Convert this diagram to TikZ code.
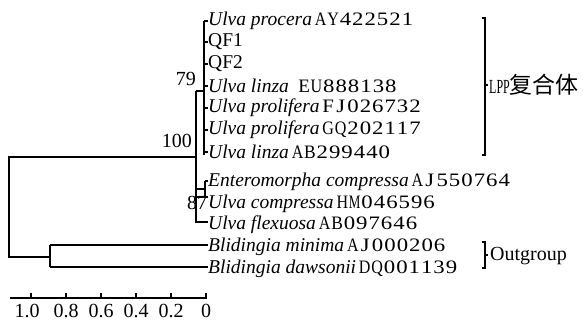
\documentclass[tikz,border=0pt]{standalone}
\usepackage{fontspec}
\usepackage{graphicx}
\setmainfont{Liberation Serif}
\newfontfamily\accfont[FakeStretch=1.2]{Liberation Serif}
\newfontfamily\cjk{Noto Sans CJK SC}
\newlength\acccell
\setlength\acccell{12.4pt}
\newlength\accmax
\setlength\accmax{11.6pt}
\makeatletter
\newcommand\acc@cell[1]{\sbox0{\accfont #1}%
  \ifdim\wd0>\accmax\makebox[\acccell][c]{\resizebox{\accmax}{\height}{\accfont #1}}%
  \else\makebox[\acccell][c]{\accfont #1}\fi}
\def\acc@loop#1{\ifx#1\@nil\else\acc@cell{#1}\expandafter\acc@loop\fi}
\newcommand\acc[1]{{\fontsize{19}{21}\selectfont\acc@loop#1\@nil}}
\makeatother
\newcommand\taxon[2]{\textit{#1}\hspace{2.5pt}\acc{#2}}
\tikzset{
  br/.style={line width=1.1pt},
  leaf/.style={anchor=west, inner sep=0pt, font=\fontsize{19.5}{21}\selectfont},
  boot/.style={inner sep=0pt, font=\fontsize{20}{21}\selectfont},
  scalelab/.style={inner sep=0pt, font=\fontsize{20}{21}\selectfont},
  grouplab/.style={anchor=west, inner sep=0pt, font=\fontsize{20}{21}\selectfont},
}
\begin{document}
\begin{tikzpicture}[x=1pt,y=-1pt]
\useasboundingbox (0,0) rectangle (583,325);
% leaf labels
\node[leaf] (l1) at (208,21) {\taxon{Ulva procera}{AY422521}};
\node[leaf] (l2) at (208,42) {QF1};
\node[leaf] (l3) at (208,64) {QF2};
\node[leaf] (l4) at (208,86) {\textit{Ulva linza}\hspace{9pt}\acc{EU888138}};
\node[leaf] (l5) at (208,108) {\taxon{Ulva prolifera}{FJ026732}};
\node[leaf] (l6) at (208,130) {\taxon{Ulva prolifera}{GQ202117}};
\node[leaf] (l7) at (208,152) {\taxon{Ulva linza}{AB299440}};
\node[leaf] (l8) at (208,182) {\taxon{Enteromorpha compressa}{AJ550764}};
\node[leaf] (l9) at (208,204) {\taxon{Ulva compressa}{HM046596}};
\node[leaf] (l10) at (208,225) {\taxon{Ulva flexuosa}{AB097646}};
\node[leaf] (l11) at (208,247) {\taxon{Blidingia minima}{AJ000206}};
\node[leaf] (l12) at (208,269) {\taxon{Blidingia dawsonii}{DQ001139}};
% internal nodes
\coordinate (n79) at (204,91);
\coordinate (n100) at (196,157);
\coordinate (n87) at (205,189);
\coordinate (nout) at (50,257);
\coordinate (root) at (9,157);
% LPP clade
\draw[br] (204,21) -- (204,155);
\foreach \i in {1,...,7}{\draw[br] (l\i.west -| 204,0) -- (l\i.west);}
\draw[br] (196,91) -- (n79);
% 100 clade
\draw[br] (196,91) -- (196,222) -- (l10.west |- 0,222);
\draw[br] (205,181) -- (205,197);
\draw[br] (l8.west |- 0,181) -- (205,181);
\draw[br] (196,189) -- (n87);
\draw[br] (196,197) -- (l9.west |- 0,197);
% root
\draw[br] (n100) -- (root) -- (9,257) -- (nout);
\draw[br] (50,245) -- (50,267);
\draw[br] (50,245) -- (l11.west |- 0,245);
\draw[br] (50,267) -- (l12.west |- 0,267);
% bootstrap
\node[boot, anchor=east] (b79) at (196,79) {79};
\node[boot, anchor=east] (b100) at (192,141) {100};
\node[boot] (b87) at (197,203) {87};
% scale bar
\coordinate (s0) at (10,298);
\coordinate (s1) at (207,298);
\draw[br] (s0) -- (s1);
\foreach \x in {31,66,101,136,171,206}{\draw[br] (\x,298) -- (\x,293);}
\foreach \x/\t in {27/1.0,66/0.8,101/0.6,136/0.4,171/0.2,206/0}{
  \node[scalelab] at (\x,311) {\t};
}
% brackets
\draw[br] (482,18) -- (485,18) -- (485,155) -- (482,155);
\draw[br] (485,85) -- (488,85);
\node[grouplab] (lpp) at (489,85) {\scalebox{0.6}[1]{LPP}{\cjk\fontsize{23}{24}\selectfont 复合体}};
\draw[br] (482,242) -- (485,242) -- (485,268) -- (482,268);
\draw[br] (485,255) -- (488,255);
\node[grouplab] (og) at (490,256) {Outgroup};
\end{tikzpicture}
\end{document}
